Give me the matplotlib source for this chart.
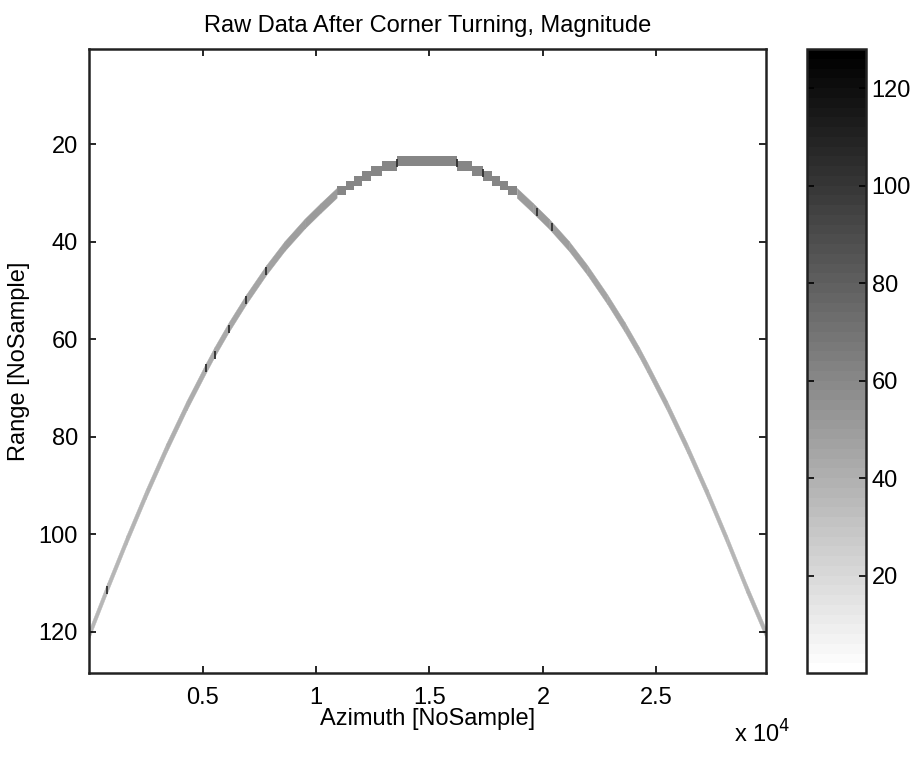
import numpy as np
import matplotlib
matplotlib.use("Agg")
import matplotlib.pyplot as plt
from matplotlib.colors import ListedColormap, Normalize
from matplotlib.cm import ScalarMappable

plt.rcParams["font.family"] = ["Liberation Sans", "DejaVu Sans"]
plt.rcParams["font.size"] = 17

# stepped part of the curve near the top (azimuth edges, band centre row)
step_edges = [10908, 11305, 11658, 12011, 12408, 12894, 13554, 16202, 16862, 17348, 17745, 18098, 18451, 18848]
step_rows = [29.5, 28.5, 27.5, 26.5, 25.5, 24.5, 23.5, 24.5, 25.5, 26.5, 27.5, 28.5, 29.5]

# smooth flanks of the curve
left_az = [0, 800, 1650, 2500, 3400, 4300, 5162, 5528, 6159, 6926, 7809, 8615, 9500, 10200, 10908]
left_rng = [120.5, 111.0, 101.2, 91.8, 82.4, 73.6, 65.8, 62.6, 57.5, 51.8, 45.8, 40.9, 36.3, 33.1, 30.0]
right_az = [18848, 19556, 20256, 21141, 21947, 22830, 23597, 24228, 24594, 25456, 26356, 27256, 28106, 28956, 29830]
right_rng = [30.0, 33.1, 36.3, 40.9, 45.8, 51.8, 57.5, 62.6, 65.8, 73.6, 82.4, 91.8, 101.2, 111.0, 120.5]

# dark peaks along the curve
peak_az = [13571, 16218, 17338, 19720, 20382, 7809, 6926, 6159, 5528, 5162, 794]
peak_rng = [23.9, 23.9, 26.0, 33.9, 37.0, 46.0, 52.0, 57.9, 63.3, 66.0, 111.5]

n_az = 29830
n_rng = 128
cmin, cmax = 0, 128
cmap = ListedColormap(plt.cm.gray_r(np.linspace(0, 1, 64)))

fig = plt.figure(figsize=(9.18, 7.58), dpi=100)
ax = fig.add_axes([0.0970, 0.1121, 0.7375, 0.8232])
cax = fig.add_axes([0.8791, 0.1121, 0.0643, 0.8232])

band_col = cmap(Normalize(cmin, cmax)(60))

# top steps, two rows thick
x = np.array(step_edges, dtype=float)
r = np.array(step_rows + [step_rows[-1]], dtype=float)
ax.fill_between(x, r - 1, r + 1, step="post", color=band_col, lw=0)

# flanks: colour gets lighter where the curve is steep (display smoothing)
for az, rg in [(left_az, left_rng), (right_az, right_rng)]:
    for i in range(len(az) - 1):
        slope = abs(rg[i + 1] - rg[i]) * 4.875 / ((az[i + 1] - az[i]) * 0.02267)
        g = 0.54 + 0.07 * min(slope, 3.2)
        ax.fill_between([az[i], az[i + 1]], [rg[i] - 1, rg[i + 1] - 1], [rg[i] + 1, rg[i + 1] + 1],
                        color=(g, g, g), lw=0.3, edgecolor=(g, g, g))

ax.scatter(peak_az, peak_rng, marker="|", s=40, linewidths=1.3, color="#303030", zorder=3)

ax.set_xlim(0.5, n_az)
ax.set_ylim(n_rng + 0.5, 0.5)
ax.set_xticks([5000, 10000, 15000, 20000, 25000])
ax.set_xticklabels(["0.5", "1", "1.5", "2", "2.5"])
ax.set_yticks([20, 40, 60, 80, 100, 120])
ax.tick_params(direction="in", length=5, width=1.2, top=True, right=True, pad=8)
ax.tick_params(axis="x", pad=10)
for s in ax.spines.values():
    s.set_linewidth(1.8)
    s.set_color("#222222")
ax.set_xlabel("Azimuth [NoSample]", labelpad=-1)
ax.set_ylabel("Range [NoSample]", labelpad=6)
ax.set_title("Raw Data After Corner Turning, Magnitude", fontsize=17, pad=12)
fig.text(0.80, 0.02, r"x 10$^4$", fontsize=17)

sm = ScalarMappable(norm=Normalize(cmin, cmax), cmap=cmap)
cb = fig.colorbar(sm, cax=cax)
cb.set_ticks([20, 40, 60, 80, 100, 120])
cax.tick_params(direction="in", length=5, width=1.2, left=True, right=True, pad=4)
cb.outline.set_linewidth(1.8)
cb.outline.set_edgecolor("#222222")

fig.savefig("out.png", dpi=100)
